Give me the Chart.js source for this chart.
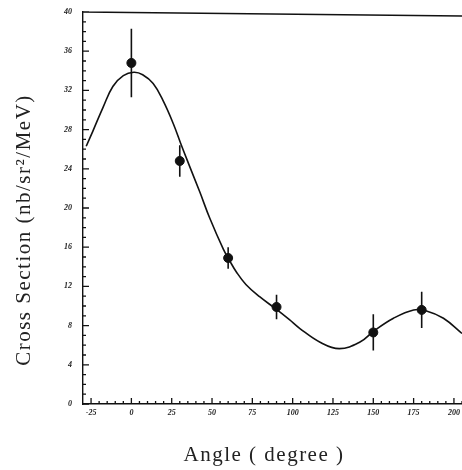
<!DOCTYPE html>
<html>
<head>
<meta charset="utf-8">
<script src="https://cdn.jsdelivr.net/npm/chart.js@4"></script>
<style>
  html, body { margin: 0; padding: 0; background: #fff; overflow: hidden; }
  canvas { display: block; }
</style>
</head>
<body>
<canvas id="xsec" width="462" height="470"></canvas>
<script>
// measured points
const angles = [0, 30, 60, 90, 150, 180];
const xsec = [34.8, 24.8, 14.9, 9.9, 7.3, 9.6];
const xsecErr = [3.5, 1.6, 1.1, 1.25, 1.85, 1.85];

// fitted curve, sampled along its length
const fitAngles = [-28, -24, -17.5, -11.5, -5, 1.5, 7, 13.5, 19.5, 26, 31, 36, 42.5, 48.5, 57, 61, 65, 71, 79.5, 90, 98, 104.5, 117, 129, 142, 150, 162.5, 175, 183, 193.5, 205];
const fitXsec = [26.3, 27.8, 30.3, 32.4, 33.5, 33.85, 33.6, 32.7, 31.0, 28.6, 26.4, 24.3, 21.6, 19.0, 15.8, 14.6, 13.5, 12.2, 10.95, 9.65, 8.6, 7.7, 6.3, 5.65, 6.35, 7.4, 8.75, 9.6, 9.5, 8.75, 7.2];

const xTicks = [];
for (let v = -25; v <= 205; v += 5) xTicks.push(v);
const yTicks = [];
for (let v = 0; v <= 40; v += 1) yTicks.push(v);

const serif = "'Liberation Serif', 'DejaVu Serif', serif";
const ink = "#111";

// inward tick marks, error bars, top frame line and axis titles
const frame = {
  id: "frame",
  afterDatasetsDraw(chart) {
    const { ctx, chartArea: a, scales } = chart;
    const xs = scales.x, ys = scales.y;
    ctx.save();
    ctx.strokeStyle = ink;
    ctx.lineWidth = 1.3;
    ctx.beginPath();
    xTicks.forEach((v) => {
      const px = xs.getPixelForValue(v);
      const len = v % 25 === 0 ? 6 : 3;
      ctx.moveTo(px, a.bottom);
      ctx.lineTo(px, a.bottom - len);
    });
    yTicks.forEach((v) => {
      const py = ys.getPixelForValue(v);
      const len = v % 4 === 0 ? 6 : 3;
      ctx.moveTo(a.left, py);
      ctx.lineTo(a.left + len, py);
    });
    ctx.moveTo(a.left, a.top);
    ctx.lineTo(a.right, a.top + 4);
    ctx.stroke();

    ctx.lineWidth = 1.6;
    ctx.beginPath();
    angles.forEach((ang, i) => {
      const px = xs.getPixelForValue(ang);
      ctx.moveTo(px, ys.getPixelForValue(xsec[i] + xsecErr[i]));
      ctx.lineTo(px, ys.getPixelForValue(xsec[i] - xsecErr[i]));
    });
    ctx.stroke();

    ctx.fillStyle = "#222";
    ctx.font = "21px " + serif;
    ctx.textAlign = "center";
    ctx.textBaseline = "middle";
    ctx.letterSpacing = "1.5px";
    ctx.fillText("Angle ( degree )", 264, 455);
    ctx.translate(24, 230);
    ctx.rotate(-Math.PI / 2);
    ctx.fillText("Cross Section (nb/sr\u00B2/MeV)", 0, 0);
    ctx.restore();
  },
};

new Chart(document.getElementById("xsec"), {
  type: "scatter",
  data: {
    datasets: [
      {
        label: "fit",
        data: fitAngles.map((a, i) => ({ x: a, y: fitXsec[i] })),
        showLine: true,
        borderColor: ink,
        borderWidth: 1.6,
        pointRadius: 0,
        tension: 0.4,
        fill: false,
      },
      {
        label: "data",
        data: angles.map((a, i) => ({ x: a, y: xsec[i] })),
        backgroundColor: ink,
        borderColor: ink,
        pointRadius: 4.5,
      },
    ],
  },
  options: {
    responsive: false,
    animation: false,
    layout: { autoPadding: false, padding: { top: 12, right: 0, left: 0, bottom: 0 } },
    plugins: { legend: { display: false }, tooltip: { enabled: false } },
    scales: {
      x: {
        type: "linear",
        min: -30,
        max: 205,
        afterBuildTicks: (s) => { s.ticks = xTicks.map((v) => ({ value: v })); },
        afterFit: (s) => {
          s.height = 66;
          s.paddingLeft = 0;
          s.paddingRight = 0;
        },
        grid: { display: false, drawTicks: false },
        border: { display: true, color: ink, width: 1.4 },
        ticks: {
          autoSkip: false,
          maxRotation: 0,
          padding: 4,
          color: "#222",
          font: { family: serif, size: 8, style: "italic", weight: "bold" },
          callback: (v) => (v % 25 === 0 ? String(v) : ""),
        },
      },
      y: {
        type: "linear",
        min: 0,
        max: 40,
        afterBuildTicks: (s) => { s.ticks = yTicks.map((v) => ({ value: v })); },
        afterFit: (s) => {
          s.width = 83;
          s.paddingTop = 0;
          s.paddingBottom = 0;
        },
        grid: { display: false, drawTicks: false },
        border: { display: true, color: ink, width: 1.4 },
        ticks: {
          autoSkip: false,
          padding: 11,
          color: "#222",
          font: { family: serif, size: 8, style: "italic", weight: "bold" },
          callback: (v) => (v % 4 === 0 ? String(v) : ""),
        },
      },
    },
  },
  plugins: [frame],
});
</script>
</body>
</html>
